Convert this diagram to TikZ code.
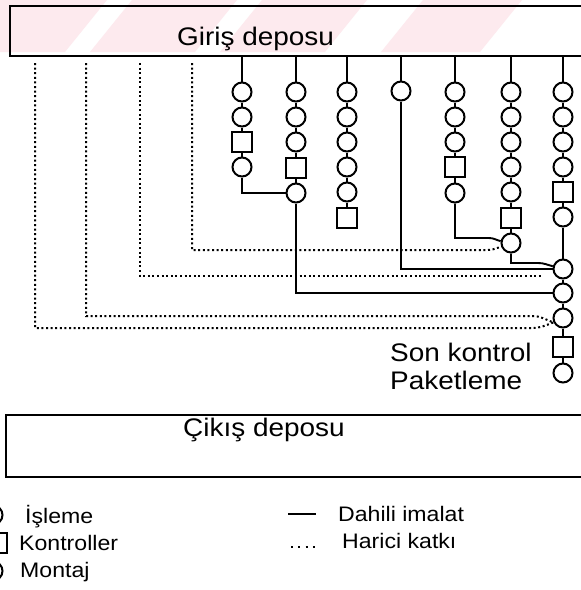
\documentclass[tikz,border=0pt]{standalone}
\usepackage{fontspec}
\setmainfont{Liberation Sans}
\usepackage{graphicx}
\definecolor{pinkband}{RGB}{253,234,238}
\newcommand{\wt}[1]{\scalebox{1.1}[1]{#1}}
\begin{document}
\begin{tikzpicture}[x=1pt,y=1pt,
 op/.style={circle,draw,line width=2pt,minimum size=19pt,inner sep=0pt},
 ctl/.style={rectangle,draw,line width=2pt,minimum size=20pt,inner sep=0pt},
 flow/.style={line width=1.9pt},
 ext/.style={line width=2pt,dash pattern=on 2pt off 2.6pt},
 legdots/.style={line width=2pt,dash pattern=on 2pt off 5.3pt},
 boxline/.style={line width=2.2pt},
 big/.style={inner sep=0pt,font=\fontsize{25.4}{30}\selectfont},
 small/.style={inner sep=0pt,font=\fontsize{21}{25}\selectfont}]
\useasboundingbox (0,0) rectangle (581,-590);
\fill[white] (0,0) rectangle (581,-590);

% faint pink diagonal bands
\foreach \a/\b in {-40/85,110/215,240/345,401/500}{
  \fill[pinkband] (\a+22,0) -- (\b+22,0) -- (\b-20,-52) -- (\a-20,-52) -- cycle;
}

% stores
\draw[boxline] (581,-6) -- (10,-6) -- (10,-56) -- (581,-56);
\draw[boxline] (581,-415) -- (6,-415) -- (6,-477) -- (581,-477);
\node[big,anchor=base west] (tin) at (177,-45) {\wt{Giriş deposu}};
\node[big,anchor=base west] (tout) at (183,-436) {\wt{Çikış deposu}};

% column A
\node[op] (a1) at (242,-92) {};
\node[op] (a2) at (242,-117) {};
\node[ctl] (a3) at (242,-142) {};
\node[op] (a4) at (242,-167) {};
% column B
\node[op] (b1) at (296,-92) {};
\node[op] (b2) at (296,-117) {};
\node[op] (b3) at (296,-142) {};
\node[ctl] (b4) at (296,-168) {};
\node[op] (b5) at (296,-193) {};
% column C
\node[op] (c1) at (347,-92) {};
\node[op] (c2) at (347,-117) {};
\node[op] (c3) at (347,-142) {};
\node[op] (c4) at (347,-167) {};
\node[op] (c5) at (347,-192) {};
\node[ctl] (c6) at (347,-218) {};
% column D
\node[op] (d1) at (401,-91) {};
% column E
\node[op] (e1) at (455,-92) {};
\node[op] (e2) at (455,-117) {};
\node[op] (e3) at (455,-142) {};
\node[ctl] (e4) at (455,-167) {};
\node[op] (e5) at (455,-193) {};
% column F
\node[op] (f1) at (511,-92) {};
\node[op] (f2) at (511,-117) {};
\node[op] (f3) at (511,-142) {};
\node[op] (f4) at (511,-167) {};
\node[op] (f5) at (511,-192) {};
\node[ctl] (f6) at (511,-218) {};
\node[op] (f7) at (511,-243) {};
% column G (main line)
\node[op] (g1) at (563,-92) {};
\node[op] (g2) at (563,-117) {};
\node[op] (g3) at (563,-142) {};
\node[op] (g4) at (563,-167) {};
\node[ctl] (g5) at (563,-192) {};
\node[op] (g6) at (563,-217) {};
\node[op] (g7) at (563,-269) {};
\node[op] (g8) at (563,-293) {};
\node[op] (g9) at (563,-318) {};
\node[ctl] (g10) at (563,-347) {};
\node[op] (g11) at (563,-373) {};

% feeds from the input store
\foreach \c/\x in {a/242,b/296,c/347,d/401,e/455,f/511,g/563}{
  \coordinate (t\c) at (\x,-56);
}
\draw[flow] (ta) -- (a1) -- (a2) -- (a3) -- (a4);
\draw[flow] (tb) -- (b1) -- (b2) -- (b3) -- (b4) -- (b5);
\draw[flow] (tc) -- (c1) -- (c2) -- (c3) -- (c4) -- (c5) -- (c6);
\draw[flow] (td) -- (d1);
\draw[flow] (te) -- (e1) -- (e2) -- (e3) -- (e4) -- (e5);
\draw[flow] (tf) -- (f1) -- (f2) -- (f3) -- (f4) -- (f5) -- (f6) -- (f7);
\draw[flow] (tg) -- (g1) -- (g2) -- (g3) -- (g4) -- (g5) -- (g6) -- (g7) -- (g8) -- (g9) -- (g10) -- (g11);

% internal (solid) joins
\draw[flow] (a4.south) |- (b5.west);
\draw[flow] (b5.south) |- (g8.west);
\draw[flow] (d1.south) |- (g7.west);
\draw[flow] (e5.south) -- (455,-238) -- (489,-238) to[out=0,in=165] (f7.170);
\draw[flow] (f7.south) -- (511,-263) -- (538,-263) to[out=0,in=165] (g7.165);

% external (dotted) contributions
\coordinate (x1) at (35,-63);
\coordinate (x2) at (86,-63);
\coordinate (x3) at (140,-63);
\coordinate (x4) at (192,-63);
\coordinate (x3e) at (541,-276);
\draw[ext] (x4) -- (192,-250) -- (487,-250) to[out=0,in=200] (f7.200);
\draw[ext] (x3) |- (x3e);
\draw[ext] (x2) -- (86,-316) -- (532,-316) to[out=0,in=160] (g9.205);
\draw[ext] (x1) -- (35,-328) -- (532,-328) to[out=0,in=200] (g9.205);

% labels of the last stations
\node[big,anchor=base west] (lk) at (390,-361) {\wt{Son kontrol}};
\node[big,anchor=base west] (lp) at (390,-389) {\wt{Paketleme}};

% legend
\node[op] (li) at (-7,-515) {};
\node[ctl] (lc) at (-3,-543) {};
\node[op] (lm) at (-7,-571) {};
\node[small,anchor=base west] (ti) at (25,-523) {\wt{İşleme}};
\node[small,anchor=base west] (tc2) at (19,-550) {\wt{Kontroller}};
\node[small,anchor=base west] (tm) at (20,-577) {\wt{Montaj}};
\coordinate (ls1) at (288,-514);
\coordinate (ls2) at (316,-514);
\draw[flow] (ls1) -- (ls2);
\coordinate (ld1) at (291,-547);
\coordinate (ld2) at (315,-547);
\draw[legdots] (ld1) -- (ld2);
\node[small,anchor=base west] (td) at (338,-521) {\wt{Dahili imalat}};
\node[small,anchor=base west] (th) at (342,-548) {\wt{Harici katkı}};
\end{tikzpicture}
\end{document}
